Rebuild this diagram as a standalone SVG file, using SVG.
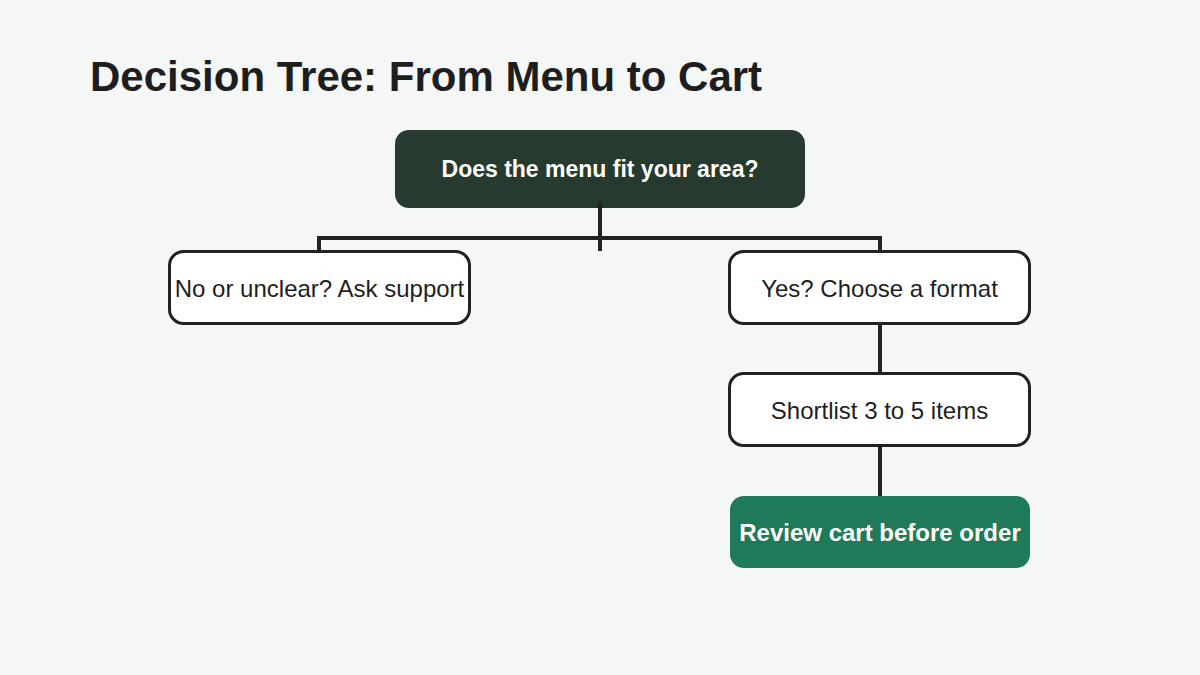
<svg xmlns="http://www.w3.org/2000/svg" width="1200" height="675" viewBox="0 0 1200 675">
<style>
.title{font-family:"Liberation Sans",Arial,sans-serif;font-weight:bold;font-size:42px;fill:#1e1e1e}
.lbl{font-family:"Liberation Sans",Arial,sans-serif;font-size:24px;fill:#1e1e1e;text-anchor:middle;dominant-baseline:central}
.lblb{font-family:"Liberation Sans",Arial,sans-serif;font-size:24px;font-weight:bold;fill:#ffffff;text-anchor:middle;dominant-baseline:central}
.box{fill:#ffffff;stroke:#222222;stroke-width:3}
.conn{stroke:#222222;stroke-width:4;fill:none}
</style>
<rect width="1200" height="675" fill="#f5f7f6"/>
<text class="title" x="90" y="91">Decision Tree: From Menu to Cart</text>
<g id="root">
<rect x="395" y="130" width="410" height="78" rx="14" fill="#263a30"/>
<text class="lblb" x="600" y="169" style="font-size:23px">Does the menu fit your area?</text>
</g>
<g id="connectors">
<path class="conn" d="M600 202 V251 M319 251 V238 H880 V251 M880 324 V373 M880 446 V496"/>
</g>
<g id="no">
<rect class="box" x="169.5" y="251.5" width="300" height="72" rx="14"/>
<text class="lbl" x="319.5" y="288">No or unclear? Ask support</text>
</g>
<g id="yes">
<rect class="box" x="729.5" y="251.5" width="300" height="72" rx="14"/>
<text class="lbl" x="879.5" y="288">Yes? Choose a format</text>
</g>
<g id="shortlist">
<rect class="box" x="729.5" y="373.5" width="300" height="72" rx="14"/>
<text class="lbl" x="879.5" y="410">Shortlist 3 to 5 items</text>
</g>
<g id="review">
<rect x="730" y="496" width="300" height="72" rx="14" fill="#1f7a5a"/>
<text class="lblb" x="880" y="532">Review cart before order</text>
</g>
</svg>
